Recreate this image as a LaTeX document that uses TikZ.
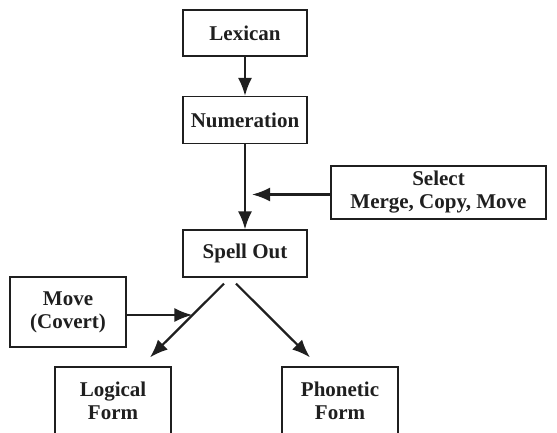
\documentclass[tikz,border=0pt]{standalone}
\usepackage{fontspec}
\setmainfont{Liberation Serif}
\usepackage{xcolor}
\usepackage{tikz}
\usetikzlibrary{arrows.meta}
\usetikzlibrary{calc}

\begin{document}
\begin{tikzpicture}[x=0.5pt,y=-0.5pt,
        stagebox/.style={draw=black!88,line width=0.6pt,align=center,inner sep=0pt,
            font=\bfseries\fontsize{10.5}{11.5}\selectfont,text=black!88},
        arr/.style={draw=black!88,line width=1.1pt,-{Latex[length=9pt,width=7pt]}}]
        \useasboundingbox (0,0) rectangle (557,433);
        \clip (0,0) rectangle (557,433);

        \node[stagebox,minimum width=62pt,minimum height=23pt] (lex) at (245,33) {Lexican};
        \node[stagebox,minimum width=62pt,minimum height=23.5pt] (num) at (245,120) {Numeration};
        \node[stagebox,minimum width=62pt,minimum height=23.5pt] (spell) at (245,253.5) {Spell Out};
        \node[stagebox,minimum width=107.5pt,minimum height=26.5pt] (sel) at (438.5,192.5) {Select\\Merge, Copy, Move};
        \node[stagebox,minimum width=58pt,minimum height=35pt] (move) at (68,312) {Move\\(Covert)};
        \node[stagebox,minimum width=58pt,minimum height=34pt] (lf) at (113,401) {Logical\\Form};
        \node[stagebox,minimum width=58pt,minimum height=34pt] (pf) at (340,401) {Phonetic\\Form};

        \draw[arr] (lex) -- (num);
        \draw[arr] (num) -- (spell);
        \draw[arr] ([yshift=-1pt]sel.west) -- ([xshift=3.5pt,yshift=-1pt]sel.west -| num.south);

        \draw[arr] ([xshift=-10.5pt,yshift=-3pt]spell.south) -- ([xshift=18.5pt,yshift=4.5pt]lf.north)
            coordinate[pos=0.427] (hit);
        \draw[arr] ([xshift=-4.5pt,yshift=-3pt]spell.south) -- ([xshift=-15pt,yshift=4.5pt]pf.north);

        \draw[arr] ([yshift=-1.5pt]move.east) -- ([yshift=-1.5pt]move.east -| hit);
    \end{tikzpicture}
\end{document}
